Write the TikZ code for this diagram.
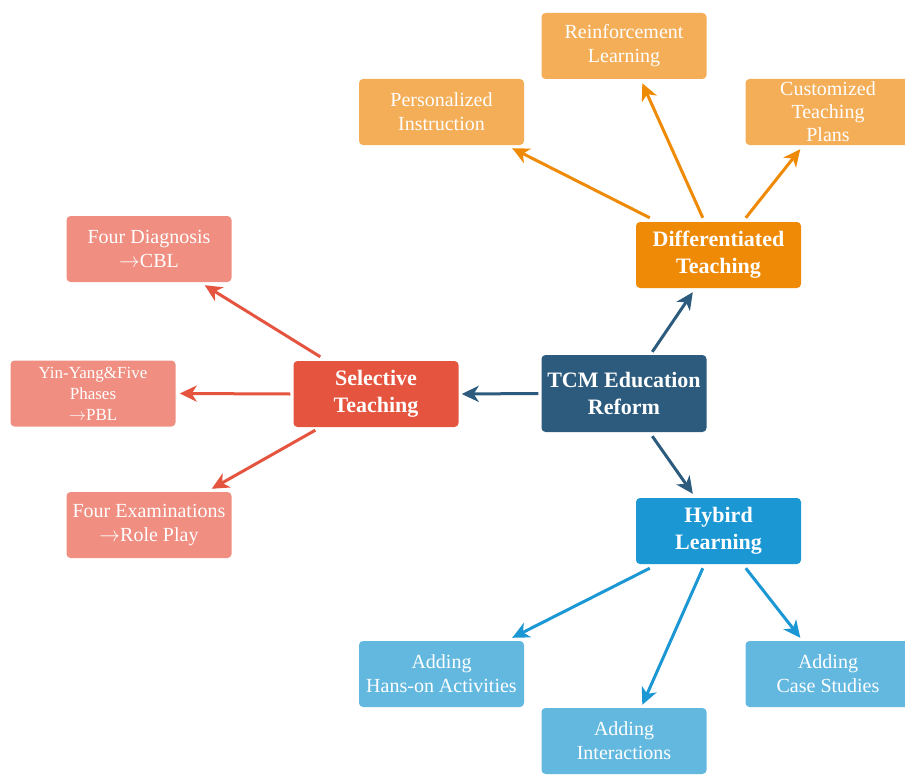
\documentclass[tikz,border=0pt]{standalone}
\usepackage{fontspec}
\setmainfont{Liberation Serif}
\usepackage{xcolor}
\usepackage{tikz}
\usetikzlibrary{arrows.meta, positioning}

\definecolor{hubblue}{HTML}{2C5B7D}
\definecolor{difforange}{HTML}{EF8A06}
\definecolor{selred}{HTML}{E5543E}
\definecolor{hybblue}{HTML}{1B97D3}
\definecolor{lightorange}{HTML}{F4AE58}
\definecolor{lightred}{HTML}{EF8E81}
\definecolor{lightblue}{HTML}{63B8E0}

\tikzset{
    box/.style={rectangle, rounded corners=4pt, text=white, align=center,
        minimum width=165pt, minimum height=66pt, inner sep=0pt},
    bigbox/.style={box, font=\fontsize{22}{27}\selectfont\bfseries},
    smallbox/.style={box, font=\fontsize{20}{24}\selectfont},
    link/.style={->, line width=3pt}
}

\begin{document}
\begin{tikzpicture}[x=1pt, y=-1pt, >={Stealth[length=17pt,width=16pt,inset=5pt]}]

    % =================================================================
    % 1. KHUNG HINH
    % =================================================================
    \useasboundingbox (0,0) rectangle (905,776);

    % =================================================================
    % 2. CAC NUT CHINH
    % =================================================================
    \node[bigbox, fill=hubblue, minimum height=77pt] (tcm) at (624,393.5) {TCM Education\\Reform};
    \node[bigbox, fill=difforange] (diff) at (718.5,255) {Differentiated\\Teaching};
    \node[bigbox, fill=selred] (sel) at (376,394) {Selective\\Teaching};
    \node[bigbox, fill=hybblue] (hyb) at (718.5,531) {Hybird\\Learning};

    % =================================================================
    % 3. CAC NUT PHU
    % =================================================================
    % Nhanh cam
    \node[smallbox, fill=lightorange] (pers) at (441.5,112) {Personalized\\Instruction};
    \node[smallbox, fill=lightorange] (reinf) at (624,46) {Reinforcement\\Learning};
    \node[smallbox, fill=lightorange, font=\fontsize{20}{23}\selectfont] (cust) at (828,112) {Customized\\Teaching\\Plans};

    % Nhanh do
    \node[smallbox, fill=lightred] (fd) at (149,249) {Four Diagnosis\\$\rightarrow$CBL};
    \node[smallbox, fill=lightred, font=\fontsize{17}{21}\selectfont] (yy) at (93,393.5) {Yin-Yang\&Five\\Phases\\$\rightarrow$PBL};
    \node[smallbox, fill=lightred] (fe) at (149,525) {Four Examinations\\$\rightarrow$Role Play};

    % Nhanh xanh
    \node[smallbox, fill=lightblue] (hans) at (441.5,674) {Adding\\Hans-on Activities};
    \node[smallbox, fill=lightblue] (inter) at (624,741) {Adding\\Interactions};
    \node[smallbox, fill=lightblue] (case) at (828,674) {Adding\\Case Studies};

    % =================================================================
    % 4. CAC MUI TEN
    % =================================================================
    % Tu nut trung tam
    \draw[link, hubblue] ([xshift=111pt,yshift=3pt]tcm.north west) -- ([xshift=57pt,yshift=-4pt]diff.south west);
    \draw[link, hubblue] ([xshift=-3pt]tcm.west) -- ([xshift=3pt]sel.east);
    \draw[link, hubblue] ([xshift=111pt,yshift=-4pt]tcm.south west) -- ([xshift=57pt,yshift=4pt]hyb.north west);

    % Tu Differentiated Teaching
    \draw[link, difforange] ([xshift=14pt,yshift=4pt]diff.north west) -- ([xshift=-12pt,yshift=-3pt]pers.south east);
    \draw[link, difforange] ([xshift=67pt,yshift=4pt]diff.north west) -- ([xshift=101pt,yshift=-4pt]reinf.south west);
    \draw[link, difforange] ([xshift=110pt,yshift=4pt]diff.north west) -- ([xshift=55pt,yshift=-4pt]cust.south west);

    % Tu Selective Teaching
    \draw[link, selred] ([xshift=27pt,yshift=4pt]sel.north west) -- ([xshift=-27pt,yshift=-3pt]fd.south east);
    \draw[link, selred] ([xshift=-3pt]sel.west) -- ([xshift=4pt]yy.east);
    \draw[link, selred] ([xshift=22pt,yshift=-3pt]sel.south west) -- ([xshift=-20pt,yshift=3pt]fe.north east);

    % Tu Hybird Learning
    \draw[link, hybblue] ([xshift=14pt,yshift=-4pt]hyb.south west) -- ([xshift=-12pt,yshift=3pt]hans.north east);
    \draw[link, hybblue] ([xshift=67pt,yshift=-4pt]hyb.south west) -- ([xshift=101pt,yshift=3pt]inter.north west);
    \draw[link, hybblue] ([xshift=110pt,yshift=-4pt]hyb.south west) -- ([xshift=55pt,yshift=3pt]case.north west);

\end{tikzpicture}
\end{document}
